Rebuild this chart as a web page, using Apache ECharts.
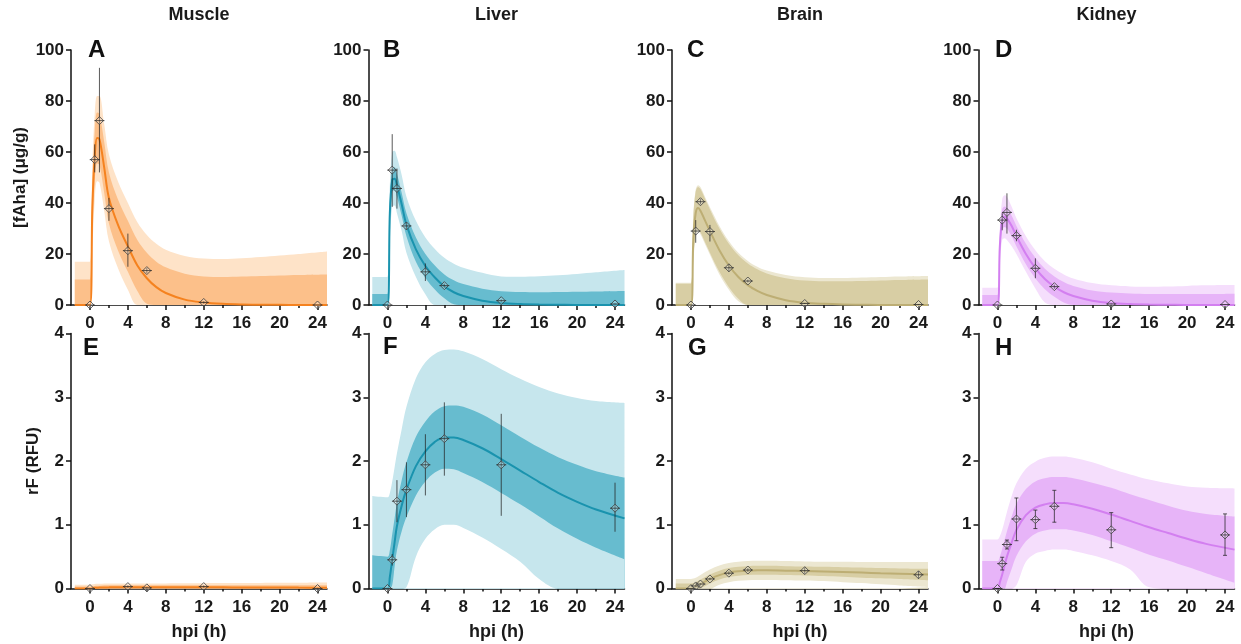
<!DOCTYPE html>
<html>
<head>
<meta charset="UTF-8">
<title>fAha kinetics</title>
<script src="https://cdn.jsdelivr.net/npm/echarts@6/dist/echarts.min.js"></script>
<style>
  html, body { margin: 0; padding: 0; background: #fff; }
  #chart { width: 1241px; height: 644px; }
</style>
</head>
<body>
<div id="chart"></div>
<script>
// panel labels and column titles
var tissues = ['Muscle', 'Liver', 'Brain', 'Kidney'];
var letters = ['A', 'B', 'C', 'D', 'E', 'F', 'G', 'H'];
var xTicks = [0, 4, 8, 12, 16, 20, 24];
var xMinorTicks = [2, 6, 10, 14, 18, 22];

// time grid of the fitted curves and prediction bands (h)
var fitT = [-1.6, 0, 0.25, 0.5, 0.75, 1, 1.5, 2, 3, 4, 5, 6, 7, 8, 10, 12, 14, 16, 18, 20, 22, 25];

// --- A: muscle, fAha (ug/g)
var fitA   = [0, 0, 38, 58, 65.5, 65, 54, 42, 31, 23, 15.5, 10.5, 7, 4.7, 2.1, 1, 0.45, 0.2, 0.1, 0.05, 0, 0];
var inHiA  = [10, 10, 48, 68, 75.5, 75, 64, 52, 41, 33, 25.5, 20.5, 17, 14.8, 12.3, 11.2, 11, 11.2, 11.4, 11.6, 11.8, 12];
var inLoA  = [0, 0, 28, 48, 55.5, 55, 44, 32, 21, 13, 5.5, 0.5, 0, 0, 0, 0, 0, 0, 0, 0, 0, 0];
var outHiA = [17, 17, 55, 75, 82, 82, 71, 59, 48, 40, 32.5, 27.5, 24, 21.7, 19.2, 18.2, 18, 18.3, 18.8, 19.4, 20, 21];
var outLoA = [0, 0, 21, 41, 48.5, 48, 37, 25, 14, 6, 0, 0, 0, 0, 0, 0, 0, 0, 0, 0, 0, 0];
var ptTA   = [0, 0.5, 1, 2, 4, 6, 12, 24];
var ptA    = [0, 57, 72.3, 37.8, 21.3, 13.5, 1, 0];
var ptLoA  = [0, 52, 52, 33, 15, 12.5, 0.5, 0];
var ptHiA  = [0, 63, 93, 42, 28, 14.5, 1.5, 0];

// --- B: liver
var fitB   = [0, 0, 36, 49, 49.5, 47, 39.5, 31.5, 21.8, 15.3, 10.8, 7.3, 5, 3.5, 1.7, 0.8, 0.4, 0.2, 0.1, 0, 0, 0];
var inHiB  = [4.3, 4.3, 40.5, 53.5, 54, 51.5, 44, 36, 26.5, 20, 15.5, 12, 9.7, 8.2, 6.4, 5.4, 5.1, 5.0, 5.1, 5.2, 5.3, 5.5];
var inLoB  = [0, 0, 31.5, 44.5, 45, 42.5, 35, 27, 17, 10.6, 6.1, 2.6, 0.3, 0, 0, 0, 0, 0, 0, 0, 0, 0];
var outHiB = [11, 11, 47, 60, 60.5, 58, 51, 42.5, 33, 26.5, 22, 18.5, 16.2, 14.6, 12.6, 11.2, 11.1, 11.3, 11.7, 12.2, 12.8, 13.7];
var outLoB = [0, 0, 25, 38.5, 39, 36, 29, 20.5, 11, 4.2, 0, 0, 0, 0, 0, 0, 0, 0, 0, 0, 0, 0];
var ptTB   = [0, 0.5, 1, 2, 4, 6, 12, 24];
var ptB    = [0, 52.9, 45.7, 31, 13, 7.6, 1.7, 0.4];
var ptLoB  = [0, 38.5, 37.8, 29.5, 9.4, 6.8, 1.2, 0.2];
var ptHiB  = [0, 67, 53.5, 32.5, 16.3, 8.4, 2.2, 0.6];

// --- C: brain
var fitC   = [0, 0, 26, 36, 38, 37, 33, 29, 21.5, 15.5, 11, 7.8, 5.5, 3.9, 1.9, 0.9, 0.45, 0.2, 0.1, 0, 0, 0];
var inHiC  = [8.3, 8.3, 34.5, 44.5, 46.3, 45.5, 41.5, 37.5, 30, 24, 19.5, 16.3, 14, 12.4, 10.5, 9.6, 9.3, 9.3, 9.4, 9.6, 9.8, 10];
var inLoC  = [0, 0, 17.5, 27.5, 29.7, 28.5, 24.5, 20.5, 13, 7, 2.5, 0, 0, 0, 0, 0, 0, 0, 0, 0, 0, 0];
var outHiC = [8.7, 8.7, 35.2, 45.3, 47, 46.3, 42.3, 38.3, 31, 25, 20.5, 17.3, 15, 13.5, 11.8, 10.9, 10.6, 10.6, 10.8, 11, 11.2, 11.4];
var outLoC = [0, 0, 16.8, 26.7, 29, 27.7, 23.7, 19.7, 12, 6, 1.5, 0, 0, 0, 0, 0, 0, 0, 0, 0, 0, 0];
var ptTC   = [0, 0.5, 1, 2, 4, 6, 12, 24];
var ptC    = [0, 29, 40.5, 28.8, 14.6, 9.4, 0.6, 0.2];
var ptLoC  = [0, 24.4, 39.5, 24.9, 13, 8.8, 0.4, 0.1];
var ptHiC  = [0, 33.3, 41.5, 31.4, 16, 10, 0.8, 0.3];

// --- D: kidney
var fitD   = [0, 0, 23, 33.5, 34.6, 34, 31, 27, 20, 14.5, 10.2, 7.2, 5, 3.5, 1.7, 0.8, 0.4, 0.2, 0.1, 0, 0, 0];
var inHiD  = [3.9, 3.9, 27, 37.5, 38.6, 38, 35, 31, 24, 18.5, 14.2, 11.2, 9, 7.5, 5.7, 4.9, 4.5, 4.3, 4.3, 4.3, 4.3, 4.4];
var inLoD  = [0, 0, 19, 29.5, 30.6, 30, 27, 23, 16, 10.5, 6.2, 3.2, 1, 0, 0, 0, 0, 0, 0, 0, 0, 0];
var outHiD = [6.8, 6.8, 30, 41.5, 43, 42.5, 38.5, 34, 27, 21.5, 17.2, 14.2, 12, 10.4, 8.6, 7.7, 7.3, 7.2, 7.3, 7.5, 7.7, 7.8];
var outLoD = [0, 0, 16, 25.5, 26.2, 25.5, 23, 20, 13, 6.5, 1, 0, 0, 0, 0, 0, 0, 0, 0, 0, 0, 0];
var ptTD   = [0, 0.5, 1, 2, 4, 6, 12, 24];
var ptD    = [0, 33.3, 36.3, 27.2, 14.4, 7.2, 0.4, 0.2];
var ptLoD  = [0, 29.3, 28, 25, 10.5, 6.3, 0.2, 0.1];
var ptHiD  = [0, 36, 43.8, 29.5, 18.3, 8, 0.6, 0.3];

// --- E: muscle, rF (RFU)
var fitE   = [0, 0, 0.005, 0.01, 0.012, 0.015, 0.017, 0.018, 0.02, 0.02, 0.02, 0.02, 0.02, 0.02, 0.02, 0.019, 0.018, 0.017, 0.016, 0.015, 0.014, 0.013];
var inHiE  = [0.03, 0.03, 0.035, 0.04, 0.045, 0.045, 0.05, 0.05, 0.05, 0.05, 0.05, 0.05, 0.05, 0.05, 0.05, 0.05, 0.05, 0.05, 0.05, 0.05, 0.05, 0.05];
var inLoE  = [0, 0, 0, 0, 0, 0, 0, 0, 0, 0, 0, 0, 0, 0, 0, 0, 0, 0, 0, 0, 0, 0];
var outHiE = [0.06, 0.06, 0.065, 0.07, 0.075, 0.075, 0.08, 0.08, 0.08, 0.08, 0.08, 0.08, 0.08, 0.08, 0.082, 0.084, 0.085, 0.087, 0.088, 0.09, 0.092, 0.095];
var outLoE = [0, 0, 0, 0, 0, 0, 0, 0, 0, 0, 0, 0, 0, 0, 0, 0, 0, 0, 0, 0, 0, 0];
var ptTE   = [0, 4, 6, 12, 24];
var ptE    = [0, 0.03, 0.01, 0.03, 0];
var ptLoE  = [0, 0.01, 0, 0.01, 0];
var ptHiE  = [0, 0.05, 0.02, 0.05, 0.01];

// --- F: liver
var fitF   = [0, 0, 0.18, 0.45, 0.72, 0.98, 1.3, 1.55, 1.92, 2.15, 2.3, 2.37, 2.37, 2.33, 2.2, 2.03, 1.85, 1.67, 1.5, 1.36, 1.24, 1.1];
var inHiF  = [0.52, 0.5, 0.6, 0.85, 1.1, 1.35, 1.7, 1.98, 2.38, 2.62, 2.78, 2.86, 2.87, 2.85, 2.73, 2.56, 2.38, 2.21, 2.06, 1.94, 1.84, 1.74];
var inLoF  = [0, 0, 0, 0.05, 0.34, 0.6, 0.9, 1.12, 1.46, 1.68, 1.82, 1.88, 1.87, 1.81, 1.67, 1.5, 1.32, 1.13, 0.94, 0.78, 0.64, 0.46];
var outHiF = [1.45, 1.43, 1.5, 1.68, 1.9, 2.12, 2.5, 2.85, 3.3, 3.55, 3.68, 3.74, 3.75, 3.72, 3.6, 3.44, 3.29, 3.16, 3.06, 2.99, 2.94, 2.91];
var outLoF = [0, 0, 0, 0, 0, 0, 0, 0.02, 0.5, 0.78, 0.93, 1.0, 1.0, 0.95, 0.8, 0.62, 0.42, 0.15, 0, 0, 0, 0];
var ptTF   = [0, 0.5, 1, 2, 4, 6, 12, 24];
var ptF    = [0, 0.45, 1.37, 1.55, 1.94, 2.35, 1.94, 1.26];
var ptLoF  = [0, 0.36, 1.04, 1.12, 1.46, 1.77, 1.14, 0.89];
var ptHiF  = [0, 0.54, 1.70, 1.98, 2.42, 2.92, 2.74, 1.66];

// --- G: brain
var fitG   = [0, 0, 0.01, 0.03, 0.05, 0.07, 0.11, 0.15, 0.21, 0.25, 0.27, 0.28, 0.285, 0.285, 0.28, 0.275, 0.268, 0.26, 0.25, 0.24, 0.232, 0.22];
var inHiG  = [0.08, 0.08, 0.085, 0.1, 0.12, 0.14, 0.18, 0.22, 0.28, 0.32, 0.34, 0.35, 0.355, 0.355, 0.35, 0.345, 0.34, 0.335, 0.33, 0.32, 0.315, 0.31];
var inLoG  = [0, 0, 0, 0, 0, 0.005, 0.04, 0.08, 0.14, 0.18, 0.2, 0.21, 0.215, 0.215, 0.21, 0.205, 0.196, 0.185, 0.17, 0.16, 0.149, 0.13];
var outHiG = [0.15, 0.15, 0.155, 0.17, 0.19, 0.21, 0.26, 0.3, 0.36, 0.4, 0.42, 0.43, 0.435, 0.435, 0.43, 0.425, 0.42, 0.418, 0.415, 0.415, 0.415, 0.415];
var outLoG = [0, 0, 0, 0, 0, 0, 0, 0, 0.06, 0.1, 0.12, 0.13, 0.135, 0.135, 0.13, 0.125, 0.116, 0.1, 0.085, 0.065, 0.049, 0.025];
var ptTG   = [0, 0.5, 1, 2, 4, 6, 12, 24];
var ptG    = [0, 0.04, 0.07, 0.15, 0.24, 0.29, 0.28, 0.215];
var ptLoG  = [0, 0.03, 0.06, 0.13, 0.21, 0.26, 0.23, 0.155];
var ptHiG  = [0, 0.05, 0.08, 0.17, 0.27, 0.32, 0.33, 0.275];

// --- H: kidney
var fitH   = [0, 0, 0.1, 0.22, 0.36, 0.5, 0.72, 0.92, 1.15, 1.27, 1.32, 1.34, 1.34, 1.32, 1.25, 1.16, 1.06, 0.96, 0.87, 0.78, 0.7, 0.61];
var inHiH  = [0.43, 0.43, 0.5, 0.62, 0.76, 0.9, 1.13, 1.33, 1.56, 1.68, 1.73, 1.75, 1.75, 1.73, 1.66, 1.58, 1.48, 1.39, 1.3, 1.22, 1.17, 1.13];
var inLoH  = [0, 0, 0, 0, 0, 0.1, 0.31, 0.51, 0.74, 0.86, 0.91, 0.93, 0.93, 0.91, 0.84, 0.74, 0.64, 0.53, 0.44, 0.34, 0.24, 0.09];
var outHiH = [0.77, 0.77, 0.82, 0.92, 1.06, 1.2, 1.45, 1.65, 1.88, 1.99, 2.05, 2.07, 2.07, 2.05, 1.98, 1.88, 1.79, 1.71, 1.65, 1.6, 1.58, 1.57];
var outLoH = [0, 0, 0, 0, 0, 0, 0, 0.05, 0.42, 0.55, 0.59, 0.61, 0.61, 0.59, 0.52, 0.43, 0.3, 0.02, 0, 0, 0, 0];
var ptTH   = [0, 0.5, 1, 2, 4, 6, 12, 24];
var ptH    = [0, 0.39, 0.69, 1.09, 1.08, 1.29, 0.92, 0.84];
var ptLoH  = [0, 0.29, 0.62, 0.75, 0.94, 1.04, 0.64, 0.52];
var ptHiH  = [0, 0.49, 0.76, 1.42, 1.23, 1.54, 1.19, 1.17];

var panels = [
  [fitA, inHiA, inLoA, outHiA, outLoA, ptTA, ptA, ptLoA, ptHiA],
  [fitB, inHiB, inLoB, outHiB, outLoB, ptTB, ptB, ptLoB, ptHiB],
  [fitC, inHiC, inLoC, outHiC, outLoC, ptTC, ptC, ptLoC, ptHiC],
  [fitD, inHiD, inLoD, outHiD, outLoD, ptTD, ptD, ptLoD, ptHiD],
  [fitE, inHiE, inLoE, outHiE, outLoE, ptTE, ptE, ptLoE, ptHiE],
  [fitF, inHiF, inLoF, outHiF, outLoF, ptTF, ptF, ptLoF, ptHiF],
  [fitG, inHiG, inLoG, outHiG, outLoG, ptTG, ptG, ptLoG, ptHiG],
  [fitH, inHiH, inLoH, outHiH, outLoH, ptTH, ptH, ptLoH, ptHiH]
];

// line, inner band, outer band per tissue
var colors = [
  ['#F5821F', '#FCC08A', '#FEE3C8'],
  ['#1A93AE', '#67BCCF', '#C6E6ED'],
  ['#BDAE74', '#D8CEA4', '#ECE7D1'],
  ['#D37FF0', '#E7B4F8', '#F5DEFC']
];

var FONT = '"Liberation Sans", Arial, sans-serif';
var gridLeft = [71, 368.5, 672, 978.5];
var gridTop = [50, 333.5];

var grids = [], xAxes = [], yAxes = [], series = [], graphics = [];

function pairs(xs, ys) {
  return xs.map(function (x, k) { return [x, ys[k]]; });
}

// band drawn as layered areas down to the axis: outer hi, inner hi, inner lo, outer lo (white)
function area(i, ys, color) {
  return {
    type: 'line', xAxisIndex: i, yAxisIndex: i, symbol: 'none', smooth: 0.35, silent: true,
    data: pairs(fitT, ys), lineStyle: { opacity: 0 }, areaStyle: { color: color, opacity: 1 }
  };
}

for (var i = 0; i < 8; i++) {
  var col = i % 4, row = Math.floor(i / 4);
  var c = colors[col];
  var p = panels[i];
  grids.push({ left: gridLeft[col], top: gridTop[row], width: 256, height: 255 });

  xAxes.push({
    type: 'value', gridIndex: i, min: -2, max: 25,
    name: row === 1 ? 'hpi (h)' : '', nameLocation: 'middle', nameGap: 35,
    nameTextStyle: { fontFamily: FONT, fontWeight: 'bold', fontSize: 18, color: '#1a1a1a' },
    axisLine: { show: true, onZero: false, lineStyle: { color: '#111', width: 1.5 } },
    axisTick: { show: true, customValues: xTicks, length: 5, lineStyle: { color: '#111', width: 1.5 } },
    axisLabel: { customValues: xTicks, margin: 10, fontFamily: FONT, fontWeight: 'bold', fontSize: 17, color: '#1a1a1a' },
    splitLine: { show: false }
  });
  yAxes.push({
    type: 'value', gridIndex: i, min: 0, max: row === 0 ? 100 : 4, interval: row === 0 ? 20 : 1,
    name: col === 0 ? (row === 0 ? '[fAha] (μg/g)' : 'rF (RFU)') : '',
    nameLocation: 'middle', nameGap: row === 0 ? 42 : 29,
    nameTextStyle: { fontFamily: FONT, fontWeight: 'bold', fontSize: 17, color: '#1a1a1a' },
    axisLine: { show: true, onZero: false, lineStyle: { color: '#111', width: 1.5 } },
    axisTick: { show: true, length: 5, lineStyle: { color: '#111', width: 1.5 } },
    axisLabel: { margin: 7, fontFamily: FONT, fontWeight: 'bold', fontSize: 17, color: '#1a1a1a' },
    splitLine: { show: false }
  });

  series.push(area(i, p[3], c[2]));
  series.push(area(i, p[1], c[1]));
  series.push(area(i, p[2], c[2]));
  series.push(area(i, p[4], '#ffffff'));
  series.push({
    type: 'line', xAxisIndex: i, yAxisIndex: i, symbol: 'none', smooth: 0.35, silent: true,
    data: pairs(fitT, p[0]), lineStyle: { color: c[0], width: 2 }
  });
  var pts = p[5].map(function (t, k) { return [t, p[6][k], p[7][k], p[8][k]]; });
  series.push({
    type: 'custom', xAxisIndex: i, yAxisIndex: i, clip: false, silent: true, z: 5,
    data: pts,
    renderItem: (function (capped) {
      return function (params, api) {
        var m = api.coord([api.value(0), api.value(1)]);
        var lo = api.coord([api.value(0), api.value(2)]);
        var hi = api.coord([api.value(0), api.value(3)]);
        var bar = { stroke: 'rgba(35,35,35,0.75)', lineWidth: 1 };
        var kids = [
          { type: 'line', shape: { x1: m[0], y1: hi[1], x2: m[0], y2: lo[1] }, style: bar },
          { type: 'polygon', shape: { points: [[m[0], m[1] - 4], [m[0] + 4, m[1]], [m[0], m[1] + 4], [m[0] - 4, m[1]]] },
            style: { fill: 'rgba(255,255,255,0.25)', stroke: 'rgba(60,60,60,0.8)', lineWidth: 1 } },
          { type: 'line', shape: { x1: m[0] - 5, y1: m[1], x2: m[0] + 5, y2: m[1] }, style: bar }
        ];
        if (capped) {
          kids.push({ type: 'line', shape: { x1: m[0] - 2, y1: hi[1], x2: m[0] + 2, y2: hi[1] }, style: bar });
          kids.push({ type: 'line', shape: { x1: m[0] - 2, y1: lo[1], x2: m[0] + 2, y2: lo[1] }, style: bar });
        }
        return { type: 'group', children: kids };
      };
    })(i === 7)
  });
}

// minor x ticks on a second, label-less axis per grid
for (var j = 0; j < 8; j++) {
  xAxes.push({
    type: 'value', gridIndex: j, min: -2, max: 25, position: 'bottom',
    axisLine: { show: false, onZero: false },
    axisTick: { show: true, customValues: xMinorTicks, length: 3, lineStyle: { color: '#111', width: 1.5 } },
    axisLabel: { show: false }, splitLine: { show: false }
  });
}

var colCenters = [199, 496.5, 800, 1106.5];
tissues.forEach(function (name, k) {
  graphics.push({ type: 'text', x: colCenters[k], y: 6,
    style: { text: name, font: 'bold 18px ' + FONT, fill: '#1a1a1a', textAlign: 'center', textVerticalAlign: 'top' } });
});
var letterPos = [[88, 38], [383, 38], [687, 38], [995, 38], [83, 336], [383, 335], [688, 336], [995, 336]];
letters.forEach(function (l, k) {
  graphics.push({ type: 'text', x: letterPos[k][0], y: letterPos[k][1],
    style: { text: l, font: 'bold 24px ' + FONT, fill: '#111', textAlign: 'left', textVerticalAlign: 'top' } });
});

var chart = echarts.init(document.getElementById('chart'));
chart.setOption({
  animation: false,
  backgroundColor: '#fff',
  grid: grids,
  xAxis: xAxes,
  yAxis: yAxes,
  series: series,
  graphic: graphics
});
</script>
</body>
</html>
